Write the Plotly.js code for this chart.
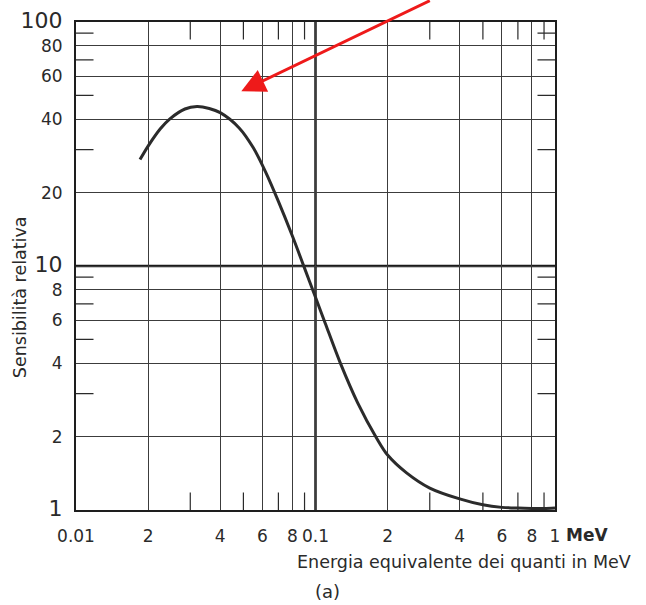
<!DOCTYPE html>
<html><head><meta charset="utf-8">
<script src="https://cdn.plot.ly/plotly-3.0.1.min.js"></script>
<style>html,body{margin:0;padding:0;background:#fff}</style>
</head><body><div id="chart" style="width:646px;height:605px"></div>
<script>
// Curve: relative sensitivity vs equivalent quantum energy (MeV)
const energy = [0.0185, 0.02, 0.0225, 0.0246, 0.0285, 0.032, 0.036, 0.04, 0.048, 0.055, 0.062, 0.07, 0.08, 0.09, 0.1, 0.11, 0.127, 0.15, 0.18, 0.2, 0.24, 0.3, 0.4, 0.5, 0.6, 0.7, 0.8, 0.9, 1.0];
const sensitivity = [27.3, 31, 36.5, 40, 44, 45, 44.2, 42.5, 36.8, 30.5, 24.2, 18.4, 13.3, 9.8, 7.45, 5.8, 4.0, 2.75, 1.97, 1.68, 1.42, 1.23, 1.11, 1.05, 1.025, 1.018, 1.015, 1.015, 1.02];

const xGrid = [0.01, 0.02, 0.04, 0.06, 0.08, 0.1, 0.2, 0.4, 0.6, 0.8, 1];
const xGridLabels = ['0.01', '2', '4', '6', '8', '0.1', '2', '4', '6', '8', '1'];
const xMinorTicks = [0.03, 0.05, 0.07, 0.09, 0.3, 0.5, 0.7, 0.9];
const yGrid = [1, 2, 4, 6, 8, 10, 20, 40, 60, 80, 100];
const yGridLabels = ['1', '2', '4', '6', '8', '10', '20', '40', '60', '80', '100'];
const yMinorTicks = [3, 5, 7, 9, 30, 50, 70, 90];
const heavyX = [0.1];
const heavyY = [10];
const bigYLabels = ['1', '10', '100'];
const xRange = [0.01, 1];
const yRange = [1, 100];
const arrowTip = {x: 0.049, y: 52};

const FONT = 'DejaVu Sans, sans-serif';
const INK = '#2a2a2a';

const yText = yGridLabels.map(l => bigYLabels.includes(l) ? '<span style="font-size:22px">' + l + '</span>' : l);

const shapes = [];
heavyX.forEach(v => shapes.push({type: 'line', xref: 'x', yref: 'paper', x0: v, x1: v, y0: 0, y1: 1, line: {color: '#1a1a1a', width: 2.5}, layer: 'below'}));
heavyY.forEach(v => shapes.push({type: 'line', xref: 'paper', yref: 'y', x0: 0, x1: 1, y0: v, y1: v, line: {color: '#1a1a1a', width: 2.5}, layer: 'below'}));

// short inside tick marks: line markers centred on the frame, clipped to the plot area
const tickMarker = sym => ({symbol: sym, size: 25, color: INK, line: {color: INK, width: 1.2}});
const xTickX = [], xTickY = [], yTickX = [], yTickY = [];
xMinorTicks.forEach(v => { xTickX.push(v, v); xTickY.push(yRange[0], yRange[1]); });
yMinorTicks.forEach(v => { yTickX.push(xRange[0], xRange[1]); yTickY.push(v, v); });

const data = [
  {x: xTickX, y: xTickY, type: 'scatter', mode: 'markers', marker: tickMarker('line-ns'), cliponaxis: true, hoverinfo: 'skip'},
  {x: yTickX, y: yTickY, type: 'scatter', mode: 'markers', marker: tickMarker('line-ew'), cliponaxis: true, hoverinfo: 'skip'},
  {x: energy, y: sensitivity, type: 'scatter', mode: 'lines',
   line: {color: '#2b2b2b', width: 3, shape: 'spline', smoothing: 0.9}, hoverinfo: 'x+y'}
];

const axisCommon = {
  type: 'log', showgrid: true, gridcolor: '#3c3c3c', gridwidth: 1,
  showline: true, linecolor: '#1e1e1e', linewidth: 2, mirror: true,
  ticks: '', zeroline: false, fixedrange: true,
  tickfont: {family: FONT, size: 17, color: INK}
};

const layout = {
  width: 646, height: 605,
  margin: {l: 76, r: 91, t: 22, b: 95},
  paper_bgcolor: '#ffffff', plot_bgcolor: '#ffffff',
  showlegend: false,
  font: {family: FONT, color: INK},
  xaxis: Object.assign({}, axisCommon, {
    range: xRange.map(Math.log10), tickmode: 'array', tickvals: xGrid, ticktext: xGridLabels,
    ticklabelstandoff: 10
  }),
  yaxis: Object.assign({}, axisCommon, {
    range: yRange.map(Math.log10), tickmode: 'array', tickvals: yGrid, ticktext: yText,
    ticklabelstandoff: 8
  }),
  shapes: shapes,
  annotations: [
    {xref: 'x', yref: 'paper', x: Math.log10(xGrid[xGrid.length - 1]), y: 0, xanchor: 'left', yanchor: 'middle', xshift: 9, yshift: -25,
     text: '<b>MeV</b>', showarrow: false, font: {family: FONT, size: 17, color: INK}},
    {xref: 'paper', yref: 'paper', x: 1.163, y: -0.106, xanchor: 'right', yanchor: 'middle',
     text: 'Energia equivalente dei quanti in MeV', showarrow: false, font: {family: FONT, size: 17.5, color: INK}},
    {xref: 'paper', yref: 'paper', x: 0.526, y: -0.168, xanchor: 'center', yanchor: 'middle',
     text: '(a)', showarrow: false, font: {family: FONT, size: 18, color: INK}},
    {xref: 'paper', yref: 'paper', x: -0.117, y: 0.436, xanchor: 'center', yanchor: 'middle', textangle: -90,
     text: 'Sensibilità relativa', showarrow: false, font: {family: FONT, size: 17.5, color: INK}},
    {xref: 'x', yref: 'y', x: Math.log10(arrowTip.x), y: Math.log10(arrowTip.y), text: '', showarrow: true,
     ax: 190, ay: -98, arrowcolor: '#ee1a1a', arrowwidth: 3, arrowhead: 2, arrowsize: 1.6}
  ]
};

Plotly.newPlot('chart', data, layout, {displayModeBar: false, staticPlot: true});
</script>
</body></html>
